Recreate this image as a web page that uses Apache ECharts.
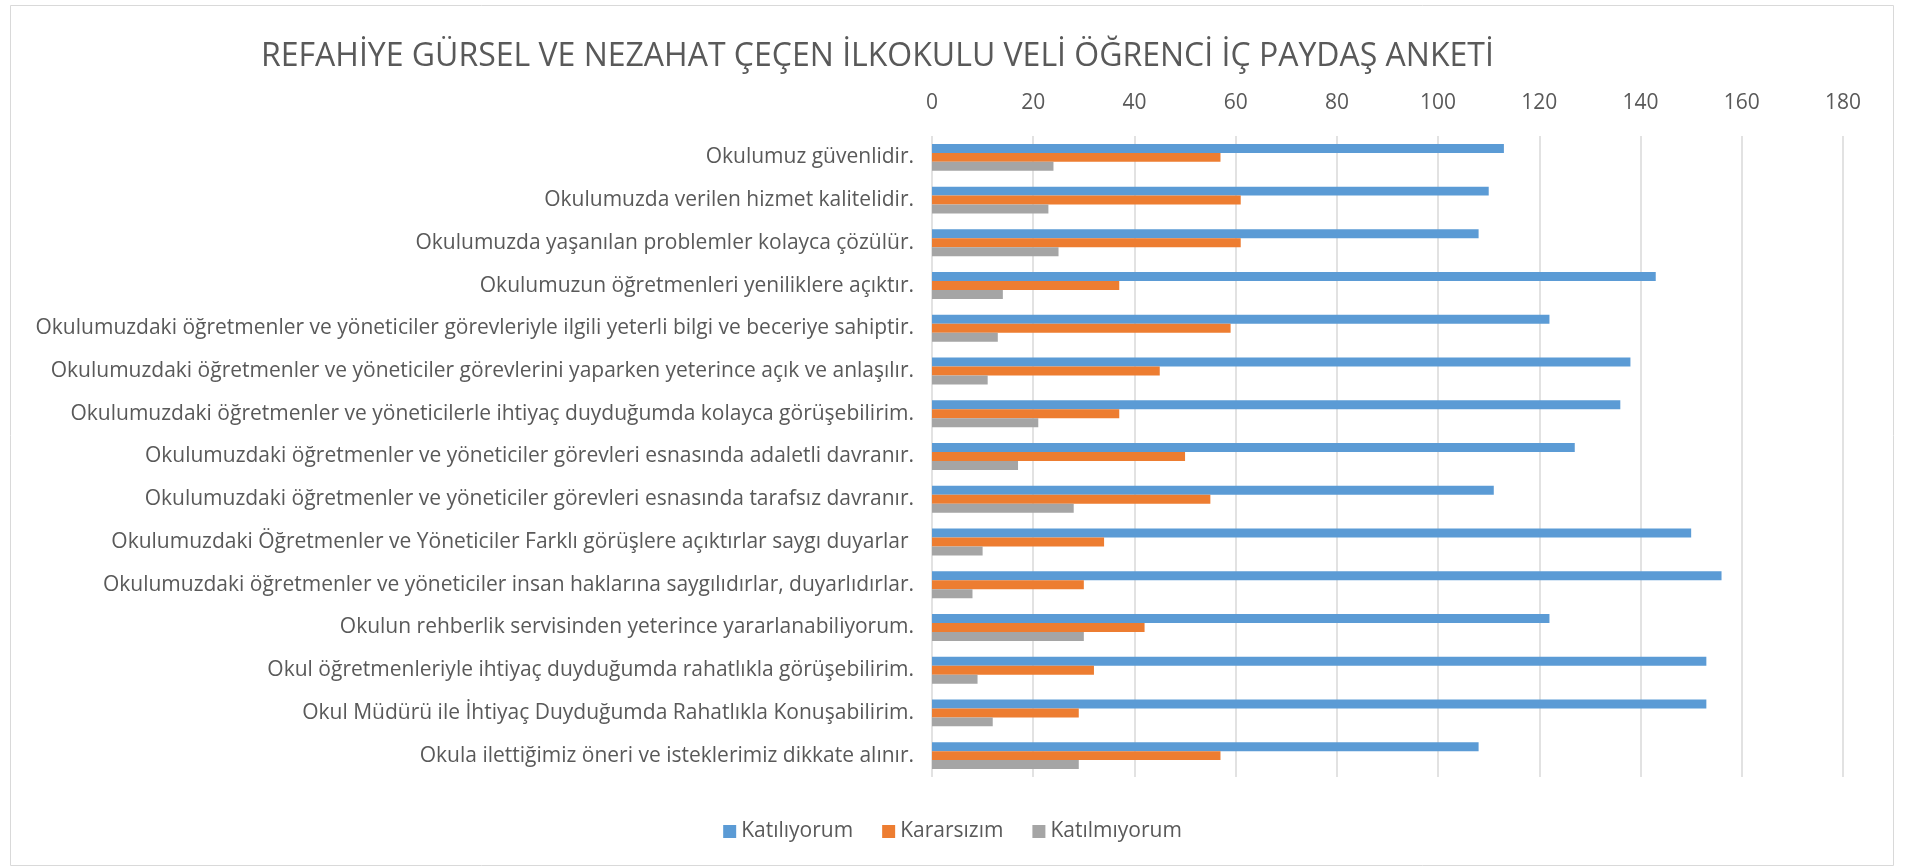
<!DOCTYPE html>
<html>
<head>
<meta charset="utf-8">
<script src="https://cdn.jsdelivr.net/npm/echarts@6/dist/echarts.min.js"></script>
<style>
html,body{margin:0;padding:0;background:#fff;}
#anket{width:1905px;height:867px;}
</style>
</head>
<body>
<div id="anket"></div>
<script>
var categories = [
    'Okulumuz güvenlidir.',
    'Okulumuzda verilen hizmet kalitelidir.',
    'Okulumuzda yaşanılan problemler kolayca çözülür.',
    'Okulumuzun öğretmenleri yeniliklere açıktır.',
    'Okulumuzdaki öğretmenler ve yöneticiler görevleriyle ilgili yeterli bilgi ve beceriye sahiptir.',
    'Okulumuzdaki öğretmenler ve yöneticiler görevlerini yaparken yeterince açık ve anlaşılır.',
    'Okulumuzdaki öğretmenler ve yöneticilerle ihtiyaç duyduğumda kolayca görüşebilirim.',
    'Okulumuzdaki öğretmenler ve yöneticiler görevleri esnasında adaletli davranır.',
    'Okulumuzdaki öğretmenler ve yöneticiler görevleri esnasında tarafsız davranır.',
    'Okulumuzdaki Öğretmenler ve Yöneticiler Farklı görüşlere açıktırlar saygı duyarlar ',
    'Okulumuzdaki öğretmenler ve yöneticiler insan haklarına saygılıdırlar, duyarlıdırlar.',
    'Okulun rehberlik servisinden yeterince yararlanabiliyorum.',
    'Okul öğretmenleriyle ihtiyaç duyduğumda rahatlıkla görüşebilirim.',
    'Okul Müdürü ile İhtiyaç Duyduğumda Rahatlıkla Konuşabilirim.',
    'Okula ilettiğimiz öneri ve isteklerimiz dikkate alınır.'
];
var katiliyorum = [113, 110, 108, 143, 122, 138, 136, 127, 111, 150, 156, 122, 153, 153, 108];
var kararsizim = [57, 61, 61, 37, 59, 45, 37, 50, 55, 34, 30, 42, 32, 29, 57];
var katilmiyorum = [24, 23, 25, 14, 13, 11, 21, 17, 28, 10, 8, 30, 9, 12, 29];
var seriesNames = ['Katılıyorum', 'Kararsızım', 'Katılmıyorum'];

var anketChart = echarts.init(document.getElementById('anket'));
var txtColor = '#595959';
var fontName = 'Open Sans';

anketoption = {
    color: ['#5b9bd5', '#ed7d31', '#a5a5a5'],
    title: {
        text: 'REFAHİYE GÜRSEL VE NEZAHAT ÇEÇEN İLKOKULU VELİ ÖĞRENCİ İÇ PAYDAŞ ANKETİ',
        left: 256,
        top: 36,
        textStyle: {
            color: txtColor,
            fontFamily: fontName,
            fontWeight: 'normal',
            fontSize: 32
        }
    },
    graphic: [{
        // dış çerçeve
        type: 'rect',
        left: 8,
        top: 3,
        shape: {width: 1883, height: 860},
        style: {fill: 'none', stroke: '#d9d9d9', lineWidth: 1},
        silent: true
    }],
    legend: {
        bottom: 20,
        left: 'center',
        icon: 'rect',
        itemWidth: 13,
        itemHeight: 13,
        itemGap: 29,
        data: seriesNames,
        textStyle: {
            color: txtColor,
            fontFamily: fontName,
            fontSize: 21
        }
    },
    grid: {
        left: 932,
        right: 62,
        top: 136,
        bottom: 90
    },
    xAxis: {
        type: 'value',
        position: 'top',
        min: 0,
        max: 180,
        interval: 20,
        axisLine: {show: false},
        axisTick: {show: false},
        axisLabel: {
            color: txtColor,
            fontFamily: fontName,
            fontSize: 21,
            margin: 22
        },
        splitLine: {
            show: true,
            lineStyle: {color: '#d9d9d9', width: 1.5}
        }
    },
    yAxis: {
        type: 'category',
        inverse: true,
        data: categories,
        axisLine: {show: false},
        axisTick: {show: false},
        axisLabel: {
            color: txtColor,
            fontFamily: fontName,
            fontSize: 21,
            margin: 18
        }
    },
    series: [
        {
            name: seriesNames[0],
            type: 'bar',
            barGap: '0%',
            barCategoryGap: '37%',
            data: katiliyorum
        },
        {
            name: seriesNames[1],
            type: 'bar',
            barGap: '0%',
            barCategoryGap: '37%',
            data: kararsizim
        },
        {
            name: seriesNames[2],
            type: 'bar',
            barGap: '0%',
            barCategoryGap: '37%',
            data: katilmiyorum
        }
    ]
};

anketChart.setOption(anketoption);
</script>
</body>
</html>
